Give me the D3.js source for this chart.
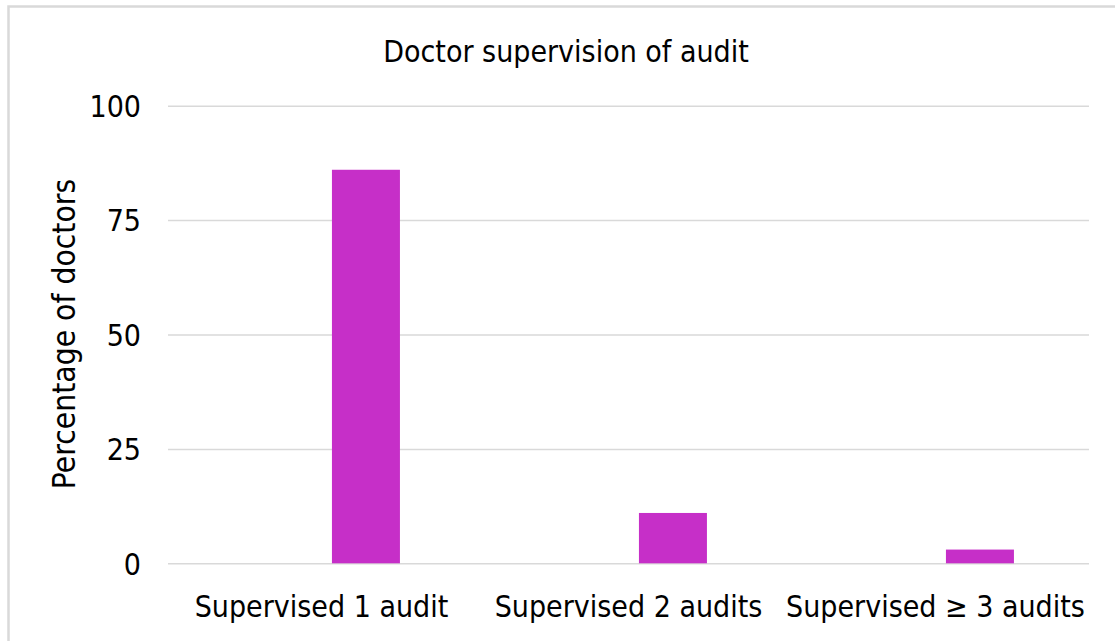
<!DOCTYPE html>
<html>
<head>
<meta charset="utf-8">
<script src="https://cdn.jsdelivr.net/npm/d3@7"></script>
<style>
  body { margin: 0; background: #fff; }
  text { font-family: "DejaVu Sans Condensed", "DejaVu Sans", sans-serif; fill: #000; }
</style>
</head>
<body>
<div id="chart"></div>
<script>
// Data
const categories = ["Supervised 1 audit", "Supervised 2 audits", "Supervised \u2265 3 audits"];
const percentages = [86, 11, 3];
const yTicks = [0, 25, 50, 75, 100];

// Dimensions
const W = 1115, H = 641;
const plot = { left: 168, right: 1089, top: 105.7, bottom: 563.3 };

const svg = d3.select("#chart")
    .append("svg")
    .attr("width", W)
    .attr("height", H);

// Outer frame
svg.append("rect")
    .attr("x", 8.5)
    .attr("y", 6.5)
    .attr("width", W + 20)
    .attr("height", H + 20)
    .attr("fill", "#fff")
    .attr("stroke", "#d9d9d9")
    .attr("stroke-width", 2.5);

// Scales
const x = d3.scaleBand()
    .domain(categories)
    .range([plot.left, plot.right])
    .padding(0);

const y = d3.scaleLinear()
    .domain([0, 100])
    .range([plot.bottom, plot.top]);

// Grid lines
svg.append("g")
    .attr("class", "grid")
    .attr("transform", `translate(${plot.left},0)`)
    .call(d3.axisLeft(y).tickValues(yTicks).tickSize(-(plot.right - plot.left)).tickFormat(""))
    .call(g => g.select(".domain").remove())
    .call(g => g.selectAll("line").attr("stroke", "#d9d9d9").attr("stroke-width", 1.5));

// Y axis labels
svg.append("g")
    .attr("transform", `translate(141,0)`)
    .call(d3.axisLeft(y).tickValues(yTicks).tickSize(0).tickPadding(0))
    .call(g => g.select(".domain").remove())
    .call(g => g.selectAll("text")
        .style("font-size", "30px")
        .attr("dy", "0.36em"));

// X axis labels
svg.append("g")
    .attr("transform", `translate(0,${plot.bottom})`)
    .call(d3.axisBottom(x).tickSize(0).tickPadding(0))
    .call(g => g.select(".domain").remove())
    .call(g => g.selectAll("text")
        .style("font-size", "30px")
        .attr("y", 54)
        .attr("dy", 0));

// Bars (second slot of each category cluster)
svg.selectAll(".bar")
    .data(percentages)
    .enter()
    .append("rect")
    .attr("class", "bar")
    .attr("x", (d, i) => x(categories[i]) + x.bandwidth() * 0.534)
    .attr("width", x.bandwidth() * 0.2215)
    .attr("y", d => y(d))
    .attr("height", d => y(0) - y(d))
    .attr("fill", "#c62fc8");

// Title
svg.append("text")
    .attr("x", 566)
    .attr("y", 62)
    .attr("text-anchor", "middle")
    .style("font-size", "30px")
    .text("Doctor supervision of audit");

// Y axis title
svg.append("text")
    .attr("transform", `translate(75,334) rotate(-90)`)
    .attr("text-anchor", "middle")
    .style("font-size", "31.5px")
    .text("Percentage of doctors");
</script>
</body>
</html>
